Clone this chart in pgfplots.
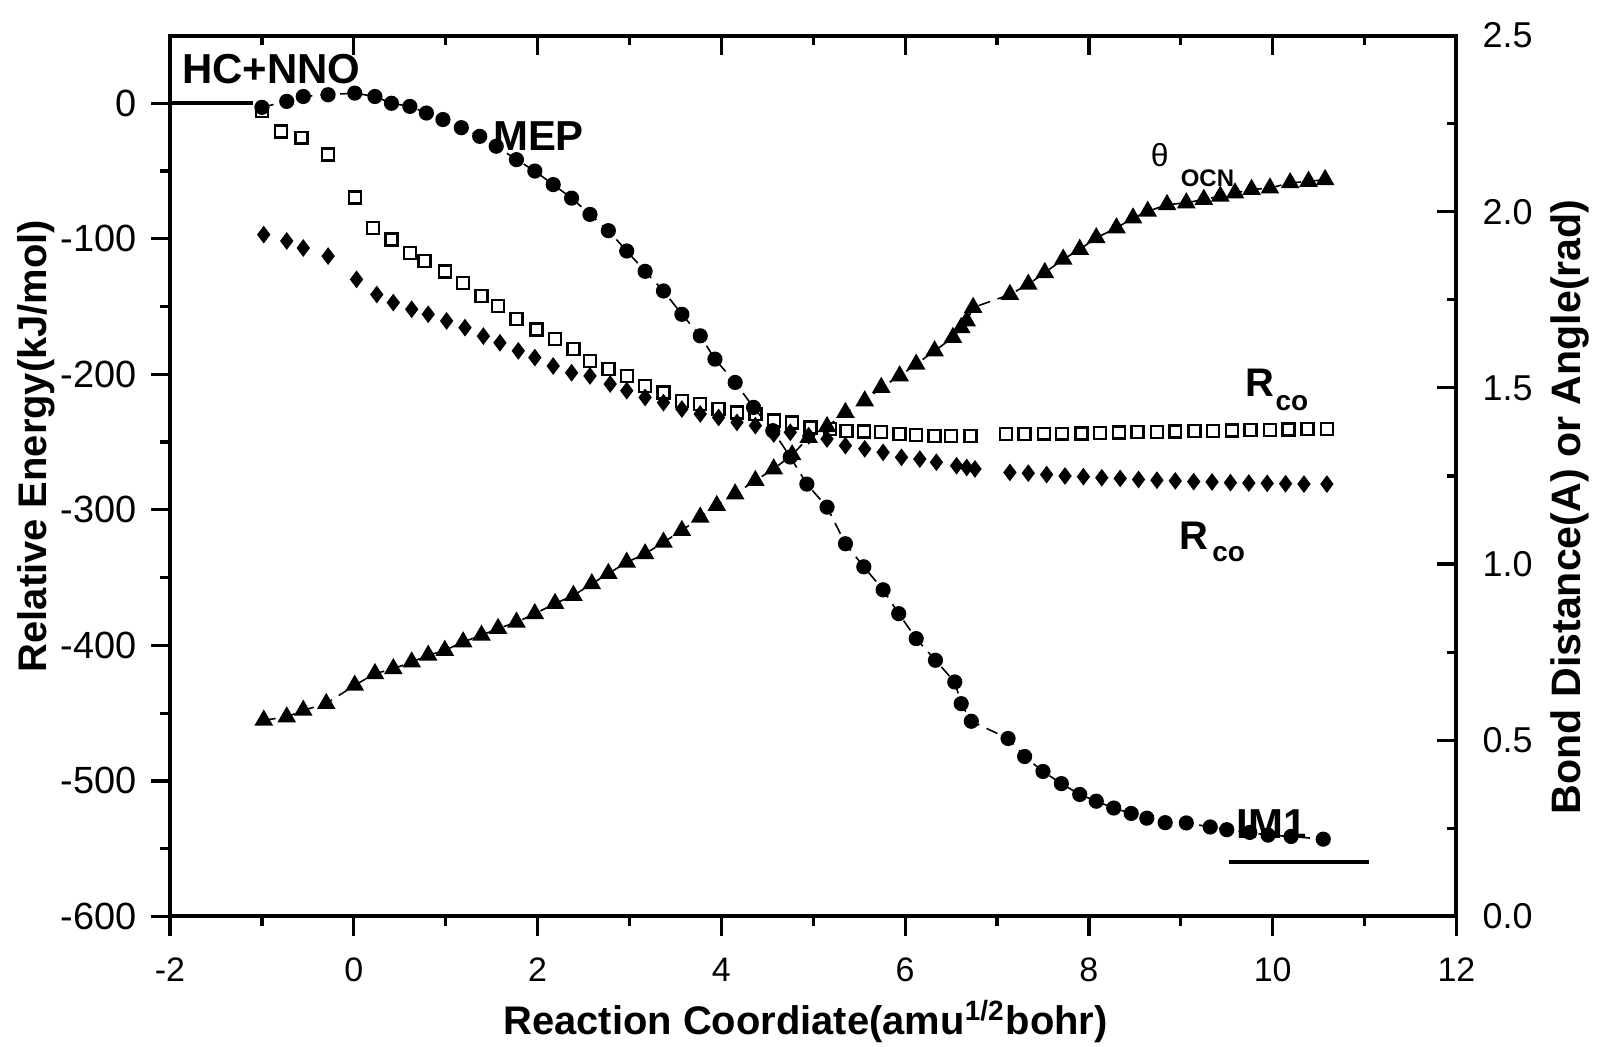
\documentclass[border=0pt]{standalone}
\usepackage{pgfplots}
\pgfplotsset{compat=1.18}
\usepackage{fontspec}
\setmainfont{Liberation Sans}

% MEP energy (left axis, kJ/mol)
\pgfplotstableread{
x y
-1.00 -3
-0.73 1.4
-0.55 5
-0.28 6.3
0.01 7.5
0.23 5
0.41 0
0.61 -2.3
0.79 -7.2
0.97 -12
1.17 -18
1.37 -24.4
1.55 -31.7
1.77 -41.6
1.97 -50
2.17 -60
2.37 -70
2.57 -82
2.77 -94
2.97 -109
3.17 -124
3.37 -138.5
3.57 -155.7
3.77 -171.6
3.93 -188.8
4.15 -206
4.35 -224.4
4.56 -241.6
4.75 -261
4.93 -281
5.15 -298
5.35 -325
5.55 -342
5.76 -359
5.93 -376.6
6.12 -395
6.33 -411
6.54 -427
6.61 -443
6.72 -456
7.12 -468.7
7.30 -482
7.50 -493
7.70 -502
7.90 -510
8.08 -515
8.27 -520
8.46 -524
8.63 -527.5
8.83 -530.8
9.06 -531
9.32 -534
9.50 -536
9.75 -538
9.95 -540
10.20 -541
10.55 -543
}\mep

% R_co, open squares (right axis)
\pgfplotstableread{
x r
-1.00 2.285
-0.79 2.228
-0.57 2.210
-0.28 2.162
0.01 2.040
0.21 1.954
0.41 1.921
0.61 1.883
0.77 1.860
0.99 1.830
1.19 1.798
1.39 1.761
1.57 1.732
1.77 1.695
1.99 1.666
2.19 1.638
2.39 1.610
2.57 1.577
2.77 1.553
2.97 1.534
3.17 1.506
3.37 1.487
3.57 1.463
3.77 1.454
3.97 1.440
4.17 1.430
4.37 1.426
4.57 1.407
4.77 1.402
4.97 1.388
5.18 1.383
5.36 1.378
5.55 1.376
5.74 1.374
5.94 1.369
6.12 1.366
6.32 1.364
6.50 1.364
6.71 1.364
7.10 1.369
7.30 1.369
7.51 1.370
7.71 1.370
7.92 1.371
8.12 1.372
8.33 1.373
8.53 1.374
8.74 1.375
8.94 1.376
9.15 1.377
9.35 1.378
9.56 1.379
9.76 1.380
9.97 1.381
10.17 1.382
10.38 1.383
10.59 1.383
}\rcoA

% R_co, filled diamonds (right axis)
\pgfplotstableread{
x r
-0.98 1.935
-0.73 1.917
-0.55 1.897
-0.28 1.874
0.03 1.808
0.25 1.765
0.43 1.742
0.63 1.723
0.81 1.709
1.01 1.690
1.21 1.671
1.41 1.647
1.59 1.628
1.79 1.605
1.97 1.586
2.17 1.562
2.37 1.543
2.57 1.534
2.79 1.511
2.97 1.492
3.17 1.473
3.37 1.458
3.57 1.440
3.77 1.426
3.97 1.416
4.17 1.402
4.37 1.393
4.57 1.369
4.75 1.374
4.95 1.364
5.15 1.355
5.35 1.336
5.56 1.327
5.76 1.317
5.96 1.303
6.16 1.298
6.34 1.289
6.56 1.279
6.67 1.274
6.76 1.270
7.14 1.260
7.34 1.258
7.54 1.254
7.74 1.250
7.94 1.248
8.14 1.245
8.34 1.243
8.54 1.240
8.74 1.238
8.94 1.236
9.14 1.234
9.34 1.233
9.54 1.231
9.74 1.230
9.94 1.229
10.14 1.228
10.34 1.227
10.59 1.227
}\rcoB

% theta_OCN, filled triangles (right axis)
\pgfplotstableread{
x r
-0.98 0.557
-0.73 0.566
-0.55 0.585
-0.30 0.604
0.01 0.656
0.23 0.689
0.43 0.703
0.63 0.722
0.81 0.741
0.99 0.755
1.19 0.779
1.39 0.798
1.57 0.817
1.77 0.835
1.97 0.859
2.19 0.888
2.39 0.911
2.59 0.944
2.77 0.973
2.97 1.005
3.17 1.029
3.37 1.062
3.57 1.095
3.77 1.133
3.95 1.166
4.15 1.199
4.37 1.237
4.57 1.270
4.77 1.310
4.95 1.359
5.15 1.390
5.35 1.430
5.56 1.463
5.74 1.501
5.94 1.534
6.12 1.567
6.32 1.605
6.52 1.643
6.61 1.671
6.67 1.690
6.74 1.728
7.14 1.765
7.34 1.794
7.52 1.827
7.72 1.865
7.90 1.893
8.08 1.926
8.30 1.954
8.48 1.982
8.64 2.001
8.85 2.020
9.06 2.025
9.25 2.035
9.43 2.044
9.59 2.053
9.77 2.063
9.97 2.067
10.19 2.082
10.39 2.086
10.57 2.091
}\theta

\begin{document}
\begin{tikzpicture}
\pgfplotsset{
  base/.style={
    scale only axis, width=322.3pt, height=220.7pt,
    xmin=-2, xmax=12,
    xtick={-2,0,...,12}, minor x tick num=1,
    every tick/.style={black, line width=0.8pt},
    tick label style={font=\fontsize{8.5}{10}\selectfont},
    /pgf/number format/assume math mode=true,
    axis line style={line width=1pt},
    clip=false,
  }
}
\begin{axis}[base,
    ymin=-600, ymax=50,
    ytick={-600,-500,...,0}, minor y tick num=1,
    tick align=outside, xtick pos=bottom, ytick pos=left,
    major tick length=4.8pt, minor tick length=2.5pt,
    xticklabel style={yshift=-2pt},
    yticklabel style={font=\fontsize{9.5}{11}\selectfont},
    xlabel={\bfseries Reaction Coordiate(amu\textsuperscript{1/2}bohr)},
    xlabel style={font=\fontsize{10}{12}\selectfont, inner sep=0pt, at={(axis description cs:0.494,-0.119)}, anchor=center},
    ylabel={\bfseries Relative Energy(kJ/mol)},
    ylabel style={font=\fontsize{10}{12}\selectfont, inner sep=0pt, at={(axis description cs:-0.104,0.534)}, anchor=center},
]
\coordinate (ll) at (rel axis cs:0,0);
\addplot[black, densely dashed, line width=0.4pt, mark=*, mark size=1.7pt, mark options={solid}] table {\mep};
\addplot[black, line width=1pt] coordinates {(-2,0) (-1.1,0)};
\addplot[black, line width=1pt] coordinates {(9.52,-560) (11.05,-560)};
\node[font=\bfseries\fontsize{10.5}{12}\selectfont] at (axis cs:-0.90,25) {HC+NNO};
\node[font=\bfseries\fontsize{10.5}{12}\selectfont] at (axis cs:2.01,-24.4) {MEP};
\node[font=\fontsize{8}{9}\selectfont] at (axis cs:8.77,-38) {θ};
\node[font=\bfseries\fontsize{6}{7}\selectfont] at (axis cs:9.29,-55) {OCN};
\node[font=\bfseries\fontsize{10}{12}\selectfont] at (axis cs:9.86,-206) {R};
\node[font=\bfseries\fontsize{7}{8}\selectfont] at (axis cs:10.21,-221) {co};
\node[font=\bfseries\fontsize{10}{12}\selectfont] at (axis cs:9.14,-319) {R};
\node[font=\bfseries\fontsize{7}{8}\selectfont] at (axis cs:9.52,-333) {co};
\node[font=\bfseries\fontsize{10.5}{12}\selectfont] at (axis cs:9.99,-532) {IM1};
\end{axis}
\begin{axis}[base,
    ymin=0, ymax=2.5,
    ytick={0,0.5,...,2.5}, minor y tick num=1,
    axis y line*=right, axis x line*=top,
    tick align=inside, xticklabels={},
    major tick length=5pt, minor tick length=2.5pt,
    yticklabel style={font=\fontsize{9}{10}\selectfont, xshift=3pt, /pgf/number format/.cd, fixed, fixed zerofill, precision=1},
    ylabel={\bfseries Bond Distance(A) or Angle(rad)},
    ylabel style={font=\fontsize{10.3}{12}\selectfont, inner sep=0pt, at={(axis description cs:1.088,0.465)}, anchor=center},
]
\addplot[black, only marks, mark=square, mark size=1.5pt, mark options={line width=0.6pt}] table {\rcoA};
\addplot[black, only marks, mark=diamond*, mark size=1.9pt] table {\rcoB};
\addplot[black, densely dashed, line width=0.4pt, mark=triangle*, mark size=2.3pt, mark options={solid}] table {\theta};
\end{axis}
\path (ll) ++(-42.6pt,-32.6pt) rectangle ++(400.1pt,262.2pt);
\end{tikzpicture}
\end{document}
